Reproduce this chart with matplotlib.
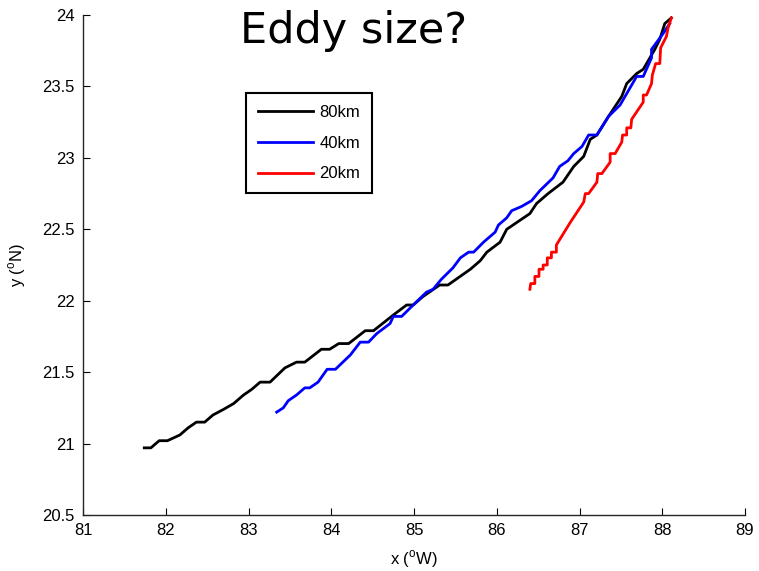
import matplotlib.pyplot as plt
from matplotlib.ticker import FormatStrFormatter

plt.rcParams['font.family'] = ['Liberation Sans', 'DejaVu Sans']
plt.rcParams['mathtext.fontset'] = 'custom'
plt.rcParams['mathtext.rm'] = 'Liberation Sans'

# eddy track positions (deg W, deg N) for each eddy size
x_80 = [81.74, 81.82, 81.92, 82.02, 82.17, 82.27, 82.37, 82.47, 82.57, 82.70,
        82.82, 82.94, 83.04, 83.14, 83.26, 83.44, 83.58, 83.68, 83.88, 83.98,
        84.09, 84.21, 84.41, 84.51, 84.75, 84.91, 84.99, 85.11, 85.21, 85.31,
        85.41, 85.68, 85.80, 85.88, 86.04, 86.12, 86.40, 86.48, 86.62, 86.80,
        86.93, 87.05, 87.13, 87.21, 87.35, 87.51, 87.57, 87.69, 87.77, 87.91,
        87.97, 88.03, 88.11]
y_80 = [20.97, 20.97, 21.02, 21.02, 21.06, 21.11, 21.15, 21.15, 21.20, 21.24,
        21.28, 21.34, 21.38, 21.43, 21.43, 21.53, 21.57, 21.57, 21.66, 21.66,
        21.70, 21.70, 21.79, 21.79, 21.90, 21.97, 21.97, 22.03, 22.07, 22.11,
        22.11, 22.22, 22.28, 22.34, 22.41, 22.50, 22.61, 22.68, 22.75, 22.83,
        22.94, 23.01, 23.13, 23.16, 23.29, 23.43, 23.52, 23.59, 23.62, 23.76,
        23.83, 23.94, 23.98]

x_40 = [83.34, 83.42, 83.48, 83.58, 83.68, 83.74, 83.84, 83.95, 84.05, 84.23,
        84.35, 84.45, 84.55, 84.71, 84.75, 84.85, 84.99, 85.15, 85.23, 85.33,
        85.47, 85.56, 85.66, 85.72, 85.84, 85.98, 86.02, 86.12, 86.18, 86.30,
        86.42, 86.52, 86.68, 86.76, 86.86, 86.93, 87.03, 87.11, 87.21, 87.35,
        87.49, 87.69, 87.77, 87.87, 87.87, 88.01, 88.09]
y_40 = [21.22, 21.25, 21.30, 21.34, 21.39, 21.39, 21.43, 21.52, 21.52, 21.62,
        21.71, 21.71, 21.77, 21.84, 21.89, 21.89, 21.97, 22.06, 22.08, 22.15,
        22.23, 22.30, 22.34, 22.34, 22.41, 22.48, 22.53, 22.58, 22.63, 22.66,
        22.70, 22.77, 22.86, 22.94, 22.98, 23.03, 23.08, 23.16, 23.16, 23.29,
        23.37, 23.57, 23.57, 23.70, 23.76, 23.87, 23.94]

x_20 = [86.40, 86.41, 86.46, 86.46, 86.51, 86.51, 86.56, 86.56, 86.61, 86.61,
        86.66, 86.66, 86.72, 86.72, 86.89, 87.05, 87.07, 87.11, 87.21, 87.22,
        87.27, 87.37, 87.37, 87.43, 87.51, 87.52, 87.57, 87.57, 87.62, 87.63,
        87.77, 87.77, 87.81, 87.87, 87.88, 87.92, 87.97, 87.98, 88.05, 88.07,
        88.11]
y_20 = [22.08, 22.12, 22.12, 22.17, 22.17, 22.22, 22.22, 22.25, 22.25, 22.30,
        22.30, 22.34, 22.34, 22.39, 22.55, 22.69, 22.75, 22.75, 22.83, 22.89,
        22.89, 22.97, 23.03, 23.03, 23.11, 23.16, 23.16, 23.21, 23.21, 23.27,
        23.39, 23.44, 23.44, 23.52, 23.58, 23.66, 23.66, 23.77, 23.85, 23.91,
        23.98]

x_ticks = [81, 82, 83, 84, 85, 86, 87, 88, 89]
y_ticks = [20.5, 21, 21.5, 22, 22.5, 23, 23.5, 24]

fig = plt.figure(figsize=(7.59, 5.71), dpi=100)
ax = fig.add_axes([0.1094, 0.0981, 0.8722, 0.8756])

ax.plot(x_80, y_80, color='k', lw=2.0, label='80km')
ax.plot(x_40, y_40, color='#0000ff', lw=2.0, label='40km')
ax.plot(x_20, y_20, color='#ff0000', lw=2.0, label='20km')

ax.set_xlim(81, 89)
ax.set_ylim(20.5, 24)
ax.set_xticks(x_ticks)
ax.set_yticks(y_ticks)
ax.yaxis.set_major_formatter(FormatStrFormatter('%g'))
ax.tick_params(direction='in', length=5, width=0.8, labelsize=12, pad=6)
for side in ['top', 'right']:
    ax.spines[side].set_visible(False)
for side in ['left', 'bottom']:
    ax.spines[side].set_color('#262626')
    ax.spines[side].set_linewidth(1.0)

ax.set_xlabel(r'x ($^{\mathrm{o}}$W)', fontsize=12, labelpad=7)
ax.set_ylabel(r'y ($^{\mathrm{o}}$N)', fontsize=12, labelpad=10)

leg = ax.legend(loc='upper left', bbox_to_anchor=(0.2458, 0.8446), borderaxespad=0,
                fontsize=12, handlelength=3.3, handletextpad=0.4, labelspacing=0.95,
                borderpad=0.72, fancybox=False, framealpha=1, edgecolor='k')
leg.get_frame().set_linewidth(1.5)

fig.text(0.4658, 0.9247, 'Eddy size?', fontsize=31, family='DejaVu Sans',
         ha='center', va='baseline')

fig.savefig('out.png', dpi=100)
